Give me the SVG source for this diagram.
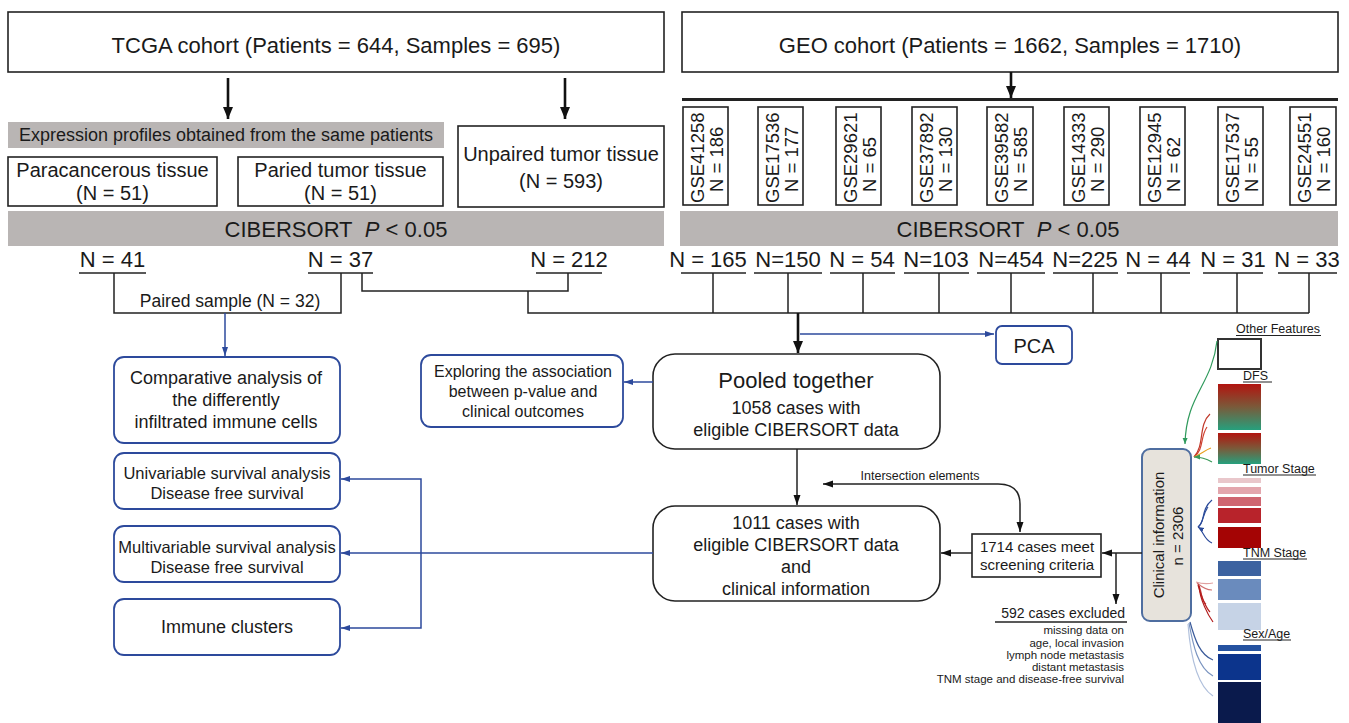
<svg xmlns="http://www.w3.org/2000/svg" width="1349" height="723" viewBox="0 0 1349 723">
<defs>
<marker id="ahBig" markerUnits="userSpaceOnUse" markerWidth="12" markerHeight="12" refX="12" refY="5" orient="auto"><path d="M0,0 L12,5 L0,10 z" fill="#111"/></marker>
<marker id="ahK" markerUnits="userSpaceOnUse" markerWidth="10" markerHeight="8" refX="10" refY="3.5" orient="auto-start-reverse"><path d="M0,0 L10,3.5 L0,7 z" fill="#111"/></marker>
<marker id="ahB" markerUnits="userSpaceOnUse" markerWidth="9" markerHeight="7" refX="9" refY="3" orient="auto"><path d="M0,0 L9,3 L0,6 z" fill="#2d4a9c"/></marker>
<marker id="ahS" markerUnits="userSpaceOnUse" markerWidth="6" markerHeight="6" refX="6" refY="2.5" orient="auto"><path d="M0,0 L6,2.5 L0,5 z" fill="context-stroke"/></marker>
<linearGradient id="dfs" x1="0" y1="0" x2="0" y2="1"><stop offset="0" stop-color="#b2140f"/><stop offset="0.5" stop-color="#7a5a3a"/><stop offset="1" stop-color="#26a07d"/></linearGradient>
<style>
text{font-family:"Liberation Sans",Arial,sans-serif;fill:#1a1a1a}
.c{text-anchor:middle}
.e{text-anchor:end}
.box{fill:#fff;stroke:#222;stroke-width:1.6}
.band{fill:#b9b5b4}
.bbox{fill:#fff;stroke:#2d4a9c;stroke-width:1.8}
.ln{fill:none;stroke:#222;stroke-width:1.5}
.thick{fill:none;stroke:#111;stroke-width:2.6}
.bl{fill:none;stroke:#2d4a9c;stroke-width:1.5}
.ul{stroke:#222;stroke-width:1.5}
.f22{font-size:22px}
.f20{font-size:20px}
.f18{font-size:18px}
.f17{font-size:17.5px}
.gse{font-size:18.5px}
.f16{font-size:16.5px}
.f15{font-size:15px}
.f12{font-size:12.5px}
.cv{fill:none;stroke-width:1.2}
</style>
</defs>

<g id="tcga"><rect class="box" x="8" y="12" width="656" height="60"/><text class="c f22" x="336" y="53">TCGA cohort (Patients = 644, Samples = 695)</text></g>
<g id="geo"><rect class="box" x="682" y="12" width="656" height="60"/><text class="c f22" x="1010" y="53">GEO cohort (Patients = 1662, Samples = 1710)</text></g>

<g id="expression-band"><rect class="band" x="8" y="122" width="436" height="26"/><text class="c" x="226" y="141" font-size="18">Expression profiles obtained from the same patients</text></g>
<g id="paracancerous"><rect class="box" x="8" y="157" width="209" height="49"/><text class="c f20" x="112.5" y="177">Paracancerous tissue</text><text class="c f20" x="112.5" y="200">(N = 51)</text></g>
<g id="paried"><rect class="box" x="238" y="157" width="205" height="49"/><text class="c f20" x="340.5" y="177">Paried tumor tissue</text><text class="c f20" x="340.5" y="200">(N = 51)</text></g>
<g id="unpaired"><rect class="box" x="458" y="126" width="206" height="81"/><text class="c f20" x="561" y="161">Unpaired tumor tissue</text><text class="c f20" x="561" y="188">(N = 593)</text></g>

<g id="cibersort-left"><rect class="band" x="8" y="211" width="656" height="35"/><text class="c f22" x="336" y="237">CIBERSORT&#160; <tspan font-style="italic">P</tspan> &lt; 0.05</text></g>
<g id="cibersort-right"><rect class="band" x="680" y="211" width="658" height="35"/><text class="c f22" x="1008" y="237">CIBERSORT&#160; <tspan font-style="italic">P</tspan> &lt; 0.05</text></g>

<g id="gse-boxes" class="gse">
<g id="gse41258"><rect class="box" x="683" y="107" width="45" height="98"/><text transform="translate(704,203) rotate(-90)">GSE41258</text><text transform="translate(723,192) rotate(-90)">N = 186</text></g>
<g id="gse17536"><rect class="box" x="758" y="107" width="45" height="98"/><text transform="translate(779,203) rotate(-90)">GSE17536</text><text transform="translate(798,192) rotate(-90)">N = 177</text></g>
<g id="gse29621"><rect class="box" x="836" y="107" width="45" height="98"/><text transform="translate(857,203) rotate(-90)">GSE29621</text><text transform="translate(876,192) rotate(-90)">N = 65</text></g>
<g id="gse37892"><rect class="box" x="912" y="107" width="45" height="98"/><text transform="translate(933,203) rotate(-90)">GSE37892</text><text transform="translate(952,192) rotate(-90)">N = 130</text></g>
<g id="gse39582"><rect class="box" x="987" y="107" width="46" height="98"/><text transform="translate(1008,203) rotate(-90)">GSE39582</text><text transform="translate(1027,192) rotate(-90)">N = 585</text></g>
<g id="gse14333"><rect class="box" x="1064" y="107" width="45" height="98"/><text transform="translate(1085,203) rotate(-90)">GSE14333</text><text transform="translate(1104,192) rotate(-90)">N = 290</text></g>
<g id="gse12945"><rect class="box" x="1140" y="107" width="45" height="98"/><text transform="translate(1161,203) rotate(-90)">GSE12945</text><text transform="translate(1180,192) rotate(-90)">N = 62</text></g>
<g id="gse17537"><rect class="box" x="1218" y="107" width="45" height="98"/><text transform="translate(1239,203) rotate(-90)">GSE17537</text><text transform="translate(1258,192) rotate(-90)">N = 55</text></g>
<g id="gse24551"><rect class="box" x="1290" y="107" width="46" height="98"/><text transform="translate(1311,203) rotate(-90)">GSE24551</text><text transform="translate(1330,192) rotate(-90)">N = 160</text></g>
</g>

<g id="n-labels" class="f22">
<g id="n41"><text class="c" x="112.5" y="267">N = 41</text><line class="ul" x1="79" y1="273" x2="146" y2="273"/></g>
<g id="n37"><text class="c" x="340.5" y="267">N = 37</text><line class="ul" x1="308" y1="273" x2="373" y2="273"/></g>
<g id="n212"><text class="c" x="569" y="267">N = 212</text><line class="ul" x1="536" y1="273" x2="602" y2="273"/></g>
<g id="n165"><text class="c" x="708" y="267">N = 165</text><line class="ul" x1="681" y1="273" x2="746" y2="273"/></g>
<g id="n150"><text class="c" x="788" y="267">N=150</text><line class="ul" x1="754" y1="273" x2="822" y2="273"/></g>
<g id="n54"><text class="c" x="862" y="267">N = 54</text><line class="ul" x1="830" y1="273" x2="895" y2="273"/></g>
<g id="n103"><text class="c" x="936" y="267">N=103</text><line class="ul" x1="904" y1="273" x2="969" y2="273"/></g>
<g id="n454"><text class="c" x="1011" y="267">N=454</text><line class="ul" x1="977" y1="273" x2="1045" y2="273"/></g>
<g id="n225"><text class="c" x="1085" y="267">N=225</text><line class="ul" x1="1053" y1="273" x2="1118" y2="273"/></g>
<g id="n44"><text class="c" x="1158" y="267">N = 44</text><line class="ul" x1="1127" y1="273" x2="1190" y2="273"/></g>
<g id="n31"><text class="c" x="1233" y="267">N = 31</text><line class="ul" x1="1203" y1="273" x2="1263" y2="273"/></g>
<g id="n33"><text class="c" x="1307" y="267">N = 33</text><line class="ul" x1="1278" y1="273" x2="1337" y2="273"/></g>
</g>

<g id="paired-sample-label"><text class="c f17" x="230" y="307">Paired sample (N = 32)</text></g>

<g id="pca"><rect class="bbox" x="996" y="326" width="76" height="38" rx="6"/><text class="c f20" x="1034" y="353">PCA</text></g>
<g id="pooled"><rect class="box" x="653" y="354" width="287" height="95" rx="22"/><text class="c f22" x="796" y="388">Pooled together</text><text class="c f18" x="796" y="414">1058 cases with</text><text class="c f18" x="796" y="436">eligible CIBERSORT data</text></g>
<g id="eligible-1011"><rect class="box" x="653" y="506" width="287" height="95" rx="22"/><text class="c f18" x="796" y="529">1011 cases with</text><text class="c f18" x="796" y="551">eligible CIBERSORT data</text><text class="c f18" x="796" y="573">and</text><text class="c f18" x="796" y="595">clinical information</text></g>
<g id="screening"><rect class="box" x="972" y="534" width="129" height="43"/><text class="c f15" x="1037" y="552">1714 cases meet</text><text class="c f15" x="1037" y="570">screening criteria</text></g>
<g id="intersection-label"><text class="c" x="920" y="480" font-size="12.5">Intersection elements</text></g>

<g id="comparative"><rect class="bbox" x="114" y="357" width="226" height="86" rx="10"/><text class="c f18" x="226" y="384">Comparative analysis of</text><text class="c f18" x="226" y="406">the differently</text><text class="c f18" x="226" y="428">infiltrated immune cells</text></g>
<g id="exploring"><rect class="bbox" x="421" y="355" width="202" height="72" rx="10"/><text class="c" x="523" y="377" font-size="16">Exploring the association</text><text class="c" x="523" y="397" font-size="16">between p-value and</text><text class="c" x="523" y="417" font-size="16">clinical outcomes</text></g>
<g id="univariable"><rect class="bbox" x="114" y="453" width="226" height="56" rx="10"/><text class="c f16" x="227" y="479">Univariable survival analysis</text><text class="c f16" x="227" y="499">Disease free survival</text></g>
<g id="multivariable"><rect class="bbox" x="114" y="526" width="226" height="56" rx="10"/><text class="c f16" x="227" y="553">Multivariable survival analysis</text><text class="c f16" x="227" y="573">Disease free survival</text></g>
<g id="immune-clusters"><rect class="bbox" x="114" y="599" width="226" height="56" rx="10"/><text class="c f18" x="227" y="633">Immune clusters</text></g>

<g id="excluded">
<text class="e" x="1125" y="618" font-size="14">592 cases excluded</text>
<line class="ul" x1="995" y1="622" x2="1127" y2="622"/>
<text class="e" x="1124" y="634" font-size="11.5">missing data on</text>
<text class="e" x="1124" y="647" font-size="11.5">age, local invasion</text>
<text class="e" x="1124" y="659" font-size="11.5">lymph node metastasis</text>
<text class="e" x="1124" y="671" font-size="11.5">distant metastasis</text>
<text class="e" x="1124" y="683" font-size="11.5">TNM stage and disease-free survival</text>
</g>

<g id="clinical-info"><rect x="1142" y="449" width="49" height="172" rx="8" fill="#e7e3dc" stroke="#4f6ea0" stroke-width="2"/><text class="c f15" transform="translate(1164,535) rotate(-90)">Clinical information</text><text class="c f15" transform="translate(1183,536) rotate(-90)">n = 2306</text></g>

<g id="feature-bars">
<text class="f12" x="1236" y="333">Other Features</text><line stroke="#222" stroke-width="1" x1="1236" y1="335.5" x2="1321" y2="335.5"/>
<rect x="1218" y="339" width="43" height="30" fill="#fff" stroke="#333" stroke-width="2"/>
<text class="f12" x="1243" y="380">DFS</text><line stroke="#222" stroke-width="1" x1="1243" y1="382" x2="1272" y2="382"/>
<rect x="1218" y="384" width="43" height="46" fill="url(#dfs)"/>
<rect x="1218" y="433" width="43" height="31" fill="url(#dfs)"/>
<text class="f12" x="1243" y="473">Tumor Stage</text><line stroke="#222" stroke-width="1" x1="1243" y1="475" x2="1316" y2="475"/>
<rect x="1218" y="478" width="43" height="5" fill="#e9c7cb"/>
<rect x="1218" y="487" width="43" height="7" fill="#e3a6ad"/>
<rect x="1218" y="497" width="43" height="9" fill="#cf6570"/>
<rect x="1218" y="508" width="43" height="15" fill="#b8232b"/>
<rect x="1218" y="527" width="43" height="21" fill="#a40404"/>
<text class="f12" x="1243" y="557">TNM Stage</text><line stroke="#222" stroke-width="1" x1="1243" y1="559" x2="1307" y2="559"/>
<rect x="1218" y="561" width="43" height="15" fill="#3c62a0"/>
<rect x="1218" y="579" width="43" height="21" fill="#6a8bbd"/>
<rect x="1218" y="603" width="43" height="27" fill="#c6d3e6"/>
<text class="f12" x="1243" y="638">Sex/Age</text><line stroke="#222" stroke-width="1" x1="1243" y1="640" x2="1291" y2="640"/>
<rect x="1218" y="645" width="43" height="6" fill="#2552a0"/>
<rect x="1218" y="654" width="43" height="26" fill="#0c348c"/>
<rect x="1218" y="682" width="43" height="41" fill="#0a1a4c"/>
</g>

<g id="connectors">
<line class="thick" x1="228" y1="78" x2="228" y2="119" marker-end="url(#ahBig)"/>
<line class="thick" x1="565" y1="78" x2="565" y2="119" marker-end="url(#ahBig)"/>
<line class="thick" x1="1011" y1="72" x2="1011" y2="98" marker-end="url(#ahBig)"/>
<line x1="682" y1="99.5" x2="1338" y2="99.5" stroke="#222" stroke-width="3"/>
<path class="ln" d="M114,273 V313 H341 V273"/>
<path class="ln" d="M362,273 V291 H568 V273"/>
<path class="ln" d="M528,291 V313 H1309"/>
<path class="ln" d="M713,273 V313 M788,273 V313 M863,273 V313 M939,273 V313 M1011,273 V313 M1093,273 V313 M1161,273 V313 M1237,273 V313 M1309,273 V313"/>
<line class="thick" x1="798" y1="313" x2="798" y2="353" marker-end="url(#ahBig)"/>
<path class="bl" d="M225,313 V356" marker-end="url(#ahB)"/>
<path class="bl" d="M800,334 H994" marker-end="url(#ahB)"/>
<path class="bl" d="M653,382 H624" marker-end="url(#ahB)"/>
<path class="bl" d="M653,553 H341" marker-end="url(#ahB)"/>
<path class="bl" d="M421,553 V479 H341" marker-end="url(#ahB)"/>
<path class="bl" d="M421,553 V628 H341" marker-end="url(#ahB)"/>
<path class="ln" d="M797,449 V505" marker-end="url(#ahK)"/>
<path class="ln" d="M823,484 H998 C1012,484 1020,490 1020,504 V532" marker-start="url(#ahK)" marker-end="url(#ahK)"/>
<path class="ln" d="M972,553 H941" marker-end="url(#ahK)"/>
<path class="ln" d="M1142,553 H1102" marker-end="url(#ahK)"/>
<path class="ln" d="M1116,553 V604" marker-end="url(#ahK)"/>
<path class="cv" stroke="#2f9a5c" d="M1217,341 C1212,385 1186,395 1185,444" marker-end="url(#ahS)"/>
<path class="cv" stroke="#c0392b" d="M1210,414 C1198,425 1205,445 1194,457"/>
<path class="cv" stroke="#d04030" d="M1207,427 C1200,437 1204,450 1194,457"/>
<path class="cv" stroke="#e8a020" d="M1211,448 C1205,450 1200,455 1194,457"/>
<path class="cv" stroke="#3a9a5a" d="M1212,462 C1205,458 1200,457 1194,457" marker-end="url(#ahS)"/>
<path class="cv" stroke="#2a4a9a" d="M1212,500 C1200,510 1206,522 1198,527"/>
<path class="cv" stroke="#2a4a9a" d="M1208,507 C1202,515 1204,522 1198,527"/>
<path class="cv" stroke="#2a4a9a" d="M1212,543 C1204,540 1203,530 1198,527" marker-end="url(#ahS)"/>
<path class="cv" stroke="#e0a0a0" d="M1196,582 C1202,584 1208,584 1213,583"/>
<path class="cv" stroke="#d07070" d="M1197,583 C1203,588 1208,590 1212,590"/>
<path class="cv" stroke="#c04040" d="M1198,584 C1203,592 1200,600 1206,604"/>
<path class="cv" stroke="#b82020" d="M1198,585 C1202,598 1206,608 1210,612"/>
<path class="cv" stroke="#b01818" d="M1199,586 C1200,600 1208,615 1213,622"/>
<path class="cv" stroke="#3a5a9a" d="M1190,622 C1195,640 1200,655 1213,660"/>
<path class="cv" stroke="#7a94c0" d="M1189,623 C1193,645 1198,668 1213,676"/>
<path class="cv" stroke="#b0c0dc" d="M1188,624 C1190,650 1196,685 1213,696"/>
</g>
</svg>
